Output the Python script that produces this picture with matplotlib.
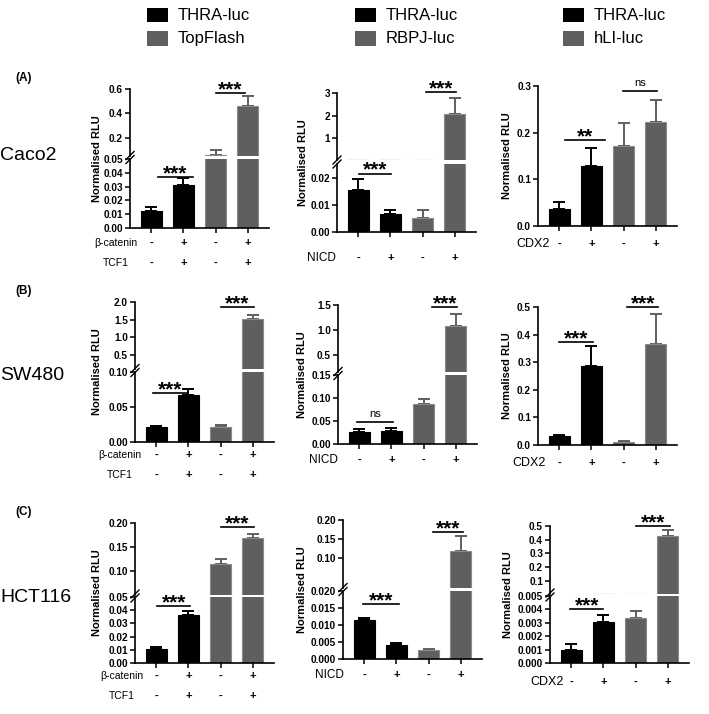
import matplotlib
matplotlib.use('Agg')
import matplotlib.pyplot as plt
from matplotlib import font_manager, transforms
from matplotlib.lines import Line2D
from matplotlib.patches import Rectangle

_names = {f.name for f in font_manager.fontManager.ttflist}
SANS = 'Liberation Sans' if 'Liberation Sans' in _names else 'DejaVu Sans'
NARROW = 'Liberation Sans Narrow' if 'Liberation Sans Narrow' in _names else SANS
plt.rcParams['font.family'] = [SANS, 'DejaVu Sans']

# ---------------- data ----------------
legend_top = ['THRA-luc', 'THRA-luc', 'THRA-luc']
legend_bottom = ['TopFlash', 'RBPJ-luc', 'hLI-luc']
row_names = ['Caco2', 'SW480', 'HCT116']
row_letters = ['(A)', '(B)', '(C)']
signs = ['-', '+', '-', '+']
wnt_factors = ['β-catenin', 'TCF1']
notch_factors = ['NICD']
cdx_factors = ['CDX2']
y_title = 'Normalised RLU'

caco2_wnt = [0.012, 0.031, 0.055, 0.457]
caco2_wnt_err = [0.003, 0.005, 0.043, 0.088]
caco2_notch = [0.0153, 0.0067, 0.0052, 2.06]
caco2_notch_err = [0.0041, 0.0013, 0.0028, 0.70]
caco2_cdx = [0.037, 0.129, 0.171, 0.223]
caco2_cdx_err = [0.014, 0.038, 0.050, 0.048]
sw480_wnt = [0.021, 0.067, 0.021, 1.53]
sw480_wnt_err = [0.002, 0.009, 0.003, 0.09]
sw480_notch = [0.027, 0.028, 0.088, 1.076]
sw480_notch_err = [0.006, 0.007, 0.009, 0.234]
sw480_cdx = [0.0325, 0.285, 0.012, 0.367]
sw480_cdx_err = [0.0055, 0.073, 0.004, 0.109]
hct116_wnt = [0.0108, 0.036, 0.115, 0.169]
hct116_wnt_err = [0.0012, 0.0035, 0.011, 0.009]
hct116_notch = [0.0115, 0.0042, 0.0026, 0.119]
hct116_notch_err = [0.0007, 0.0004, 0.0003, 0.038]
hct116_cdx = [0.0010, 0.00305, 0.00335, 0.424]
hct116_cdx_err = [0.00045, 0.00052, 0.00055, 0.046]

# y-axis ticks (upper / lower segments of broken axes)
caco2_wnt_up_ticks = [0.2, 0.4, 0.6]
caco2_wnt_up_labels = ['0.2', '0.4', '0.6']
caco2_wnt_lo_ticks = [0, 0.01, 0.02, 0.03, 0.04, 0.05]
caco2_wnt_lo_labels = ['0.00', '0.01', '0.02', '0.03', '0.04', '0.05']
caco2_notch_up_ticks = [1, 2, 3]
caco2_notch_up_labels = ['1', '2', '3']
caco2_notch_lo_ticks = [0, 0.01, 0.02]
caco2_notch_lo_labels = ['0.00', '0.01', '0.02']
caco2_cdx_ticks = [0, 0.1, 0.2, 0.3]
caco2_cdx_labels = ['0.0', '0.1', '0.2', '0.3']
sw480_wnt_up_ticks = [0.5, 1.0, 1.5, 2.0]
sw480_wnt_up_labels = ['0.5', '1.0', '1.5', '2.0']
sw480_wnt_lo_ticks = [0, 0.05, 0.10]
sw480_wnt_lo_labels = ['0.00', '0.05', '0.10']
sw480_notch_up_ticks = [0.5, 1.0, 1.5]
sw480_notch_up_labels = ['0.5', '1.0', '1.5']
sw480_notch_lo_ticks = [0, 0.05, 0.10, 0.15]
sw480_notch_lo_labels = ['0.00', '0.05', '0.10', '0.15']
sw480_cdx_ticks = [0, 0.1, 0.2, 0.3, 0.4, 0.5]
sw480_cdx_labels = ['0.0', '0.1', '0.2', '0.3', '0.4', '0.5']
hct116_wnt_up_ticks = [0.10, 0.15, 0.20]
hct116_wnt_up_labels = ['0.10', '0.15', '0.20']
hct116_wnt_lo_ticks = [0, 0.01, 0.02, 0.03, 0.04, 0.05]
hct116_wnt_lo_labels = ['0.00', '0.01', '0.02', '0.03', '0.04', '0.05']
hct116_notch_up_ticks = [0.10, 0.15, 0.20]
hct116_notch_up_labels = ['0.10', '0.15', '0.20']
hct116_notch_lo_ticks = [0, 0.005, 0.010, 0.015, 0.020]
hct116_notch_lo_labels = ['0.000', '0.005', '0.010', '0.015', '0.020']
hct116_cdx_up_ticks = [0.1, 0.2, 0.3, 0.4, 0.5]
hct116_cdx_up_labels = ['0.1', '0.2', '0.3', '0.4', '0.5']
hct116_cdx_lo_ticks = [0, 0.001, 0.002, 0.003, 0.004, 0.005]
hct116_cdx_lo_labels = ['0.000', '0.001', '0.002', '0.003', '0.004', '0.005']

# ---------------- layout / style ----------------
W, H = 709, 714
BLACK = '#000000'
GREY = '#5f5f5f'
GREY_EDGE = '#8a8a8a'
bar_colors = [BLACK, BLACK, GREY, GREY]
bar_edges = [BLACK, BLACK, GREY_EDGE, GREY_EDGE]
AX_W = 139
XLIM = (-0.67, 3.67)
BAR_W = 0.66

panels = [
    dict(v=caco2_wnt, e=caco2_wnt_err, left=130, ylab_x=97,
         up=(89, 156, 0.05, 0.6, caco2_wnt_up_ticks, caco2_wnt_up_labels),
         lo=(159, 228, 0, 0.05, caco2_wnt_lo_ticks, caco2_wnt_lo_labels),
         fac=wnt_factors, fac_y=[243, 263], fac_x=116, fac_fs=7.5,
         sig=[('lo', 0.2, 1.3, 0.037, '***'), ('up', 2.0, 2.93, 0.567, '***')]),
    dict(v=caco2_notch, e=caco2_notch_err, left=337, ylab_x=303,
         up=(93, 160, 0.025, 3, caco2_notch_up_ticks, caco2_notch_up_labels),
         lo=(164, 232, 0, 0.025, caco2_notch_lo_ticks, caco2_notch_lo_labels),
         fac=notch_factors, fac_y=[258], fac_x=321, fac_fs=8.5,
         sig=[('lo', 0.03, 1.02, 0.0215, '***'), ('up', 2.1, 3.06, 3.04, '***')]),
    dict(v=caco2_cdx, e=caco2_cdx_err, left=538, ylab_x=507,
         single=(86, 226, 0, 0.3, caco2_cdx_ticks, caco2_cdx_labels),
         fac=cdx_factors, fac_y=[244], fac_x=533, fac_fs=9,
         sig=[('single', 0.18, 1.43, 0.184, '**'), ('single', 1.97, 3.06, 0.289, 'ns')]),
    dict(v=sw480_wnt, e=sw480_wnt_err, left=135, ylab_x=97,
         up=(302, 369, 0.1, 2.0, sw480_wnt_up_ticks, sw480_wnt_up_labels),
         lo=(372, 442, 0, 0.1, sw480_wnt_lo_ticks, sw480_wnt_lo_labels),
         fac=wnt_factors, fac_y=[455, 475], fac_x=120, fac_fs=7.5,
         sig=[('lo', -0.1, 0.97, 0.07, '***'), ('up', 2.0, 3.03, 1.86, '***')]),
    dict(v=sw480_notch, e=sw480_notch_err, left=338, ylab_x=302,
         up=(305, 372, 0.15, 1.5, sw480_notch_up_ticks, sw480_notch_up_labels),
         lo=(375, 444, 0, 0.15, sw480_notch_lo_ticks, sw480_notch_lo_labels),
         fac=notch_factors, fac_y=[460], fac_x=323, fac_fs=8.5,
         sig=[('lo', -0.07, 1.06, 0.048, 'ns'), ('up', 2.28, 3.06, 1.46, '***')]),
    dict(v=sw480_cdx, e=sw480_cdx_err, left=538, ylab_x=507,
         single=(307, 445, 0, 0.5, sw480_cdx_ticks, sw480_cdx_labels),
         fac=cdx_factors, fac_y=[463], fac_x=529, fac_fs=9,
         sig=[('single', 0.0, 1.06, 0.373, '***'), ('single', 2.12, 3.09, 0.5, '***')]),
    dict(v=hct116_wnt, e=hct116_wnt_err, left=135, ylab_x=97,
         up=(523, 595, 0.05, 0.2, hct116_wnt_up_ticks, hct116_wnt_up_labels),
         lo=(597, 663, 0, 0.05, hct116_wnt_lo_ticks, hct116_wnt_lo_labels),
         fac=wnt_factors, fac_y=[676, 696], fac_x=122, fac_fs=7.5,
         sig=[('lo', 0.03, 1.06, 0.043, '***'), ('up', 2.0, 3.03, 0.192, '***')]),
    dict(v=hct116_notch, e=hct116_notch_err, left=343, ylab_x=302,
         up=(520, 588, 0.02, 0.2, hct116_notch_up_ticks, hct116_notch_up_labels),
         lo=(591, 659, 0, 0.02, hct116_notch_lo_ticks, hct116_notch_lo_labels),
         fac=notch_factors, fac_y=[675], fac_x=329, fac_fs=8.5,
         sig=[('lo', -0.03, 1.09, 0.0162, '***'), ('up', 2.15, 3.09, 0.168, '***')]),
    dict(v=hct116_cdx, e=hct116_cdx_err, left=550, ylab_x=508,
         up=(526, 594, 0.005, 0.5, hct116_cdx_up_ticks, hct116_cdx_up_labels),
         lo=(596, 663, 0, 0.005, hct116_cdx_lo_ticks, hct116_cdx_lo_labels),
         fac=cdx_factors, fac_y=[682], fac_x=547, fac_fs=9,
         sig=[('lo', -0.03, 1.0, 0.00403, '***'), ('up', 2.0, 3.09, 0.5, '***')]),
]

fig = plt.figure(figsize=(W / 100, H / 100), dpi=100)


def fx(px):
    return px / W


def fy(py):
    return 1 - py / H


def add_ax(left, top, bottom):
    return fig.add_axes([fx(left), fy(bottom), AX_W / W, (bottom - top) / H])


def style_axis(ax, seg, show_x):
    top, bot, y0, y1, ticks, labels = seg
    ax.set_xlim(*XLIM)
    ax.set_ylim(y0, y1)
    ax.set_facecolor('none')
    for s in ['top', 'right']:
        ax.spines[s].set_visible(False)
    ax.spines['left'].set_linewidth(1.2)
    ax.spines['bottom'].set_linewidth(1.2)
    ax.set_yticks(ticks)
    ax.set_yticklabels(labels, fontsize=7.2, fontweight='bold')
    ax.tick_params(axis='y', direction='out', length=3.5, width=1.1, pad=1.5)
    if show_x:
        ax.set_xticks(range(4))
        ax.set_xticklabels([])
        ax.tick_params(axis='x', direction='out', length=3.5, width=1.1)
    else:
        ax.spines['bottom'].set_visible(False)
        ax.set_xticks([])


for p in panels:
    segs = {}
    if 'single' in p:
        segs['single'] = (add_ax(p['left'], p['single'][0], p['single'][1]), p['single'])
    else:
        segs['up'] = (add_ax(p['left'], p['up'][0], p['up'][1]), p['up'])
        segs['lo'] = (add_ax(p['left'], p['lo'][0], p['lo'][1]), p['lo'])
    x = list(range(4))
    for key, (ax, seg) in segs.items():
        style_axis(ax, seg, key != 'up')
        y0, y1 = seg[2], seg[3]
        for i in x:
            v, top = p['v'][i], p['v'][i] + p['e'][i]
            if top < y0 or v > y1:
                continue
            cap = 4 if top <= y1 * 1.0001 else 0
            ax.errorbar(i, v, yerr=[[0], [p['e'][i]]], fmt='none',
                        ecolor=bar_colors[i], elinewidth=1.4, capsize=cap,
                        capthick=1.4, zorder=1)
        ax.bar(x, p['v'], width=BAR_W, color=bar_colors, edgecolor=bar_edges,
               linewidth=0.8, zorder=2)
    for key, x1, x2, yv, txt in p['sig']:
        ax = segs[key][0]
        ax.plot([x1, x2], [yv, yv], color='k', lw=1.2, clip_on=False, zorder=3)
        if txt == 'ns':
            ax.annotate(txt, xy=((x1 + x2) / 2, yv), xytext=(0, 3.4),
                        textcoords='offset points', ha='center', va='baseline',
                        fontsize=8, annotation_clip=False)
        else:
            ax.annotate(txt, xy=((x1 + x2) / 2, yv), xytext=(0, -1.5),
                        textcoords='offset points', ha='center', va='baseline',
                        fontsize=15, fontweight='bold', annotation_clip=False)
    # broken-axis marks
    if 'single' not in p:
        ymid = (p['up'][1] + p['lo'][0]) / 2
        xl = p['left']
        for d in (-2.0, 2.0):
            fig.add_artist(Line2D([fx(xl - 4), fx(xl + 4)],
                                  [fy(ymid + d + 4), fy(ymid + d - 4)],
                                  color='k', lw=1.0, transform=fig.transFigure))
        top_px = p['up'][0]
        bot_px = p['lo'][1]
    else:
        top_px = p['single'][0]
        bot_px = p['single'][1]
    fig.text(fx(p['ylab_x']), fy((top_px + bot_px) / 2), y_title, rotation=90,
             ha='center', va='center', fontsize=8, fontweight='bold')
    # treatment rows
    base_ax = segs['single'][0] if 'single' in segs else segs['lo'][0]
    tr = transforms.blended_transform_factory(base_ax.transData, fig.transFigure)
    for name, ypx in zip(p['fac'], p['fac_y']):
        fig.text(fx(p['fac_x']), fy(ypx), name, ha='center', va='center',
                 fontsize=p['fac_fs'])
        for i, s in enumerate(signs):
            base_ax.text(i, fy(ypx), s, transform=tr, ha='center', va='center',
                         fontsize=8, fontweight='bold')

# row labels
letter_y = [78, 291, 512]
name_y = [155, 375, 598]
for lt, ly, nm, ny in zip(row_letters, letter_y, row_names, name_y):
    fig.text(fx(15), fy(ly), lt, ha='left', va='center', fontsize=8.5,
             fontweight='bold')
    fig.text(fx(0), fy(ny), nm, ha='left', va='center', fontsize=14)

# legends
leg_x = [147, 355, 563]
for lx, t1, t2 in zip(leg_x, legend_top, legend_bottom):
    for yc, txt, col in ((15, t1, BLACK), (38.5, t2, GREY)):
        fig.add_artist(Rectangle((fx(lx), fy(yc + 7)), 21 / W, 14 / H,
                                 facecolor=col, edgecolor='none',
                                 transform=fig.transFigure))
        fig.text(fx(lx + 31), fy(yc), txt, ha='left', va='center',
                 fontsize=12, family=[NARROW, SANS])

fig.savefig('out.png', dpi=100)
